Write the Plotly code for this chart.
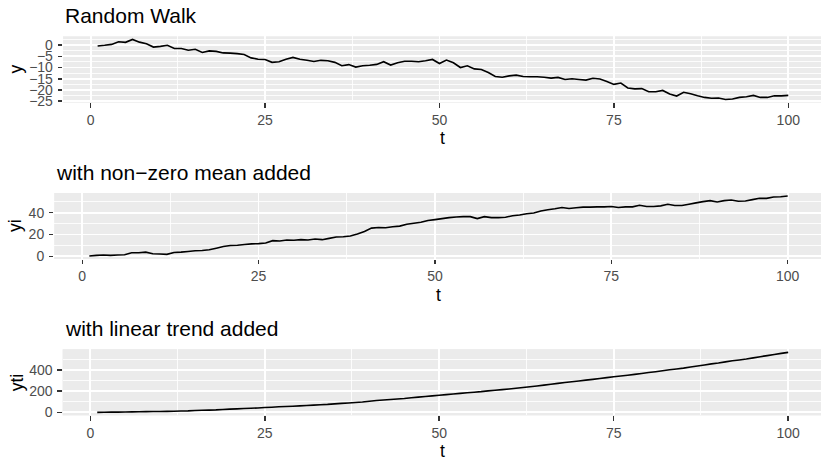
import plotly.graph_objects as go

# ---------------- data ----------------
t = list(range(1, 101))

y_walk = [-0.4, -0.1, 0.3, 1.5, 1.2, 2.5, 1.3, 0.6, -0.9, -0.6,
          -0.1, -1.5, -1.5, -2.3, -1.9, -3.3, -2.6, -2.8, -3.5, -3.6,
          -3.8, -4.2, -5.7, -6.3, -6.4, -7.7, -7.4, -6.3, -5.5, -6.3,
          -6.8, -7.3, -6.8, -7.0, -7.7, -9.2, -8.7, -9.8, -9.2, -9.0,
          -8.6, -7.4, -8.9, -7.9, -7.2, -7.2, -7.4, -7.0, -6.4, -8.2,
          -6.7, -7.9, -10.0, -9.2, -10.6, -10.9, -12.2, -14.0, -14.3, -13.7,
          -13.4, -14.0, -14.1, -14.1, -14.3, -14.7, -14.4, -15.3, -15.0, -15.3,
          -15.6, -14.8, -15.1, -16.2, -17.5, -16.9, -19.1, -19.5, -19.4, -20.8,
          -20.8, -20.2, -21.8, -22.7, -21.0, -21.7, -22.6, -23.3, -23.7, -23.6,
          -24.2, -24.0, -23.3, -23.0, -22.4, -23.3, -23.3, -22.6, -22.6, -22.4]

y_mean = [0.3, 0.9, 1.2, 0.9, 1.2, 1.5, 3.3, 3.3, 3.9, 2.4,
          2.1, 1.8, 3.6, 3.9, 4.5, 5.1, 5.4, 6.0, 7.5, 9.0,
          9.9, 10.2, 10.8, 11.4, 11.7, 12.3, 14.4, 14.1, 15.0, 14.7,
          15.3, 15.0, 15.9, 15.3, 16.5, 17.7, 18.0, 18.6, 20.4, 22.8,
          25.9, 26.5, 26.2, 27.1, 27.7, 29.5, 30.4, 31.3, 32.8, 33.7,
          34.6, 35.5, 36.1, 36.4, 36.4, 34.6, 36.4, 35.5, 35.5, 35.8,
          37.3, 37.9, 39.1, 39.7, 41.5, 42.7, 43.6, 44.8, 43.9, 44.5,
          45.1, 45.1, 45.4, 45.4, 45.7, 44.8, 45.4, 45.4, 46.9, 45.7,
          45.7, 46.3, 47.8, 46.6, 46.6, 47.8, 49.0, 50.2, 51.1, 49.9,
          51.1, 51.7, 50.5, 50.8, 52.0, 53.2, 53.2, 54.4, 54.7, 55.3]

y_trend = [0, 1, 2, 2, 3, 4, 6, 7, 8, 8,
           9, 10, 13, 14, 17, 19, 21, 23, 27, 30,
           33, 36, 38, 41, 45, 48, 52, 55, 58, 61,
           65, 68, 72, 75, 80, 84, 88, 93, 98, 105,
           112, 117, 121, 126, 131, 138, 143, 149, 155, 161,
           167, 173, 179, 185, 190, 195, 202, 208, 214, 220,
           227, 234, 242, 249, 257, 265, 273, 281, 288, 296,
           304, 311, 319, 327, 335, 342, 350, 358, 367, 375,
           383, 392, 401, 409, 417, 427, 437, 447, 457, 465,
           476, 486, 494, 503, 514, 525, 535, 546, 556, 566]

x_ticks = [0, 25, 50, 75, 100]
x_minor = [12.5, 37.5, 62.5, 87.5]
walk_ticks = [0, -5, -10, -15, -20, -25]
walk_minor = [2.5, -2.5, -7.5, -12.5, -17.5, -22.5]
mean_ticks = [0, 20, 40]
mean_minor = [10, 30, 50]
trend_ticks = [0, 200, 400]
trend_minor = [100, 300, 500]

titles = ["Random Walk", "with non\u2212zero mean added", "with linear trend added"]
ylabels = ["y", "yi", "yti"]

# ---------------- layout helpers ----------------
W, H = 821, 463
FONT = "Liberation Sans, Arial, Helvetica, sans-serif"
PANEL_BG = "#EBEBEB"
TICK_COL = "#4D4D4D"


def px_x(p):
    return p / W


def px_y(p):
    return 1 - p / H


def expand(vals):
    lo, hi = min(vals), max(vals)
    d = 0.05 * (hi - lo)
    return [lo - d, hi + d]


# panel geometry in pixels
panels = [
    dict(left=63.1, top=37.0, bottom=104.0, xr=104.69, data=y_walk,
         ticks=walk_ticks, minor=walk_minor, ylab_x=16),
    dict(left=54.4, top=196.0, bottom=263.0, xr=104.72, data=y_mean,
         ticks=mean_ticks, minor=mean_minor, ylab_x=15),
    dict(left=62.7, top=354.7, bottom=421.7, xr=104.70, data=y_trend,
         ticks=trend_ticks, minor=trend_minor, ylab_x=17),
]

fig = go.Figure()
layout = dict(
    width=W, height=H,
    margin=dict(l=0, r=0, t=0, b=0),
    paper_bgcolor="white",
    plot_bgcolor=PANEL_BG,
    showlegend=False,
    font=dict(family=FONT, color="black"),
)
annotations = []
shapes = []

for i, p in enumerate(panels):
    n = "" if i == 0 else str(i + 1)
    fig.add_trace(go.Scatter(
        x=t, y=p["data"], mode="lines",
        line=dict(color="black", width=1.6, simplify=False),
        xaxis="x" + n, yaxis="y" + n, hoverinfo="skip"))

    shapes.append(dict(type="rect", xref="paper", yref="paper",
                       x0=px_x(p["left"]), x1=1.0,
                       y0=px_y(p["bottom"]), y1=px_y(p["top"]),
                       fillcolor=PANEL_BG, line=dict(width=0), layer="below"))

    common = dict(
        showline=False, zeroline=False,
        ticks="outside", ticklen=4.4, tickwidth=1.5, tickcolor="#333333",
        tickfont=dict(family=FONT, size=14, color=TICK_COL),
        showgrid=True, gridcolor="white", gridwidth=1.7,
    )
    layout["xaxis" + n] = dict(
        common,
        domain=[px_x(p["left"]), 1.0],
        range=[-3.95, p["xr"]],
        tickmode="array", tickvals=x_ticks, ticktext=[str(v) for v in x_ticks],
        anchor="y" + n,
        minor=dict(tickvals=x_minor, showgrid=True, gridcolor="white",
                   gridwidth=0.85, ticks=""),
    )
    layout["yaxis" + n] = dict(
        common,
        domain=[px_y(p["bottom"]), px_y(p["top"])],
        range=expand(p["data"]),
        tickmode="array", tickvals=p["ticks"],
        anchor="x" + n,
        minor=dict(tickvals=p["minor"], showgrid=True, gridcolor="white",
                   gridwidth=0.85, ticks=""),
        ticklabelstandoff=2,
    )

    annotations.append(dict(
        text=titles[i], xref="paper", yref="paper",
        x=px_x(p["left"]), y=px_y(p["top"] - 21),
        xanchor="left", yanchor="middle", showarrow=False,
        font=dict(family=FONT, size=21, color="black")))
    annotations.append(dict(
        text="t", xref="paper", yref="paper",
        x=px_x((p["left"] + 822.8) / 2), y=px_y(p["bottom"] + 36.5),
        xanchor="center", yanchor="middle", showarrow=False,
        font=dict(family=FONT, size=17.6, color="black")))
    annotations.append(dict(
        text=ylabels[i], xref="paper", yref="paper",
        x=px_x(p["ylab_x"]), y=px_y((p["top"] + p["bottom"]) / 2),
        xanchor="center", yanchor="middle", showarrow=False, textangle=-90,
        font=dict(family=FONT, size=17.6, color="black")))

layout["annotations"] = annotations
layout["shapes"] = shapes
fig.update_layout(**layout)
fig.write_html(
    "out.html",
    config={"displayModeBar": False, "staticPlot": True},
    post_script="document.body.style.margin='0';document.body.style.padding='0';",
)
